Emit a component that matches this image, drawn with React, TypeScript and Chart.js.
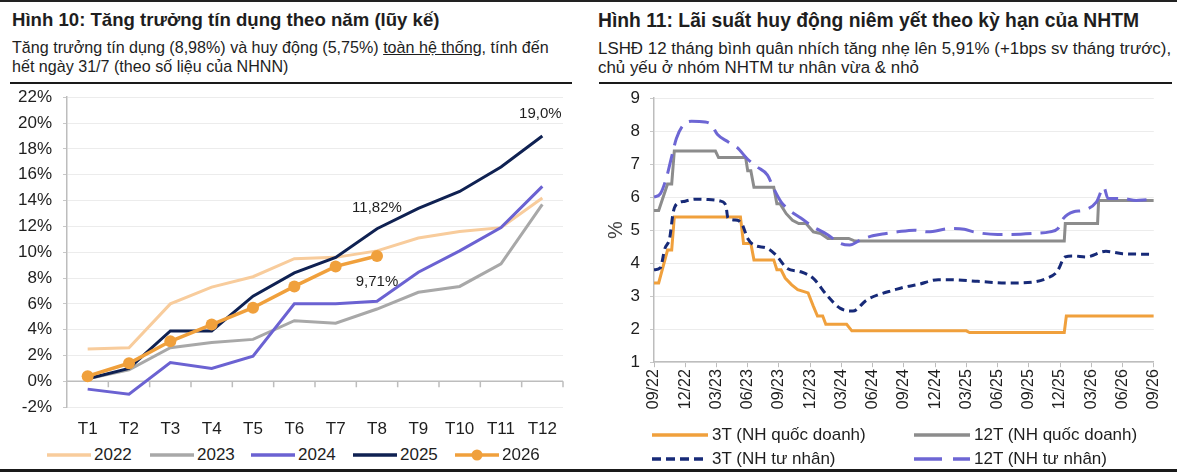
import React, { useEffect, useRef } from 'react';
import { Chart, registerables } from 'chart.js';

Chart.register(...registerables);

const FONT = '"Liberation Sans", Arial, sans-serif';
Chart.defaults.font.family = FONT;

// ---------- Left chart (Hình 10) ----------
const monthLabels = ['T1', 'T2', 'T3', 'T4', 'T5', 'T6', 'T7', 'T8', 'T9', 'T10', 'T11', 'T12'];
const credit2022 = [2.5, 2.6, 6.0, 7.3, 8.1, 9.5, 9.6, 10.1, 11.1, 11.6, 11.9, 14.2];
const credit2023 = [0.2, 0.9, 2.6, 3.0, 3.25, 4.7, 4.5, 5.6, 6.9, 7.35, 9.1, 13.7];
const credit2024 = [-0.6, -1.0, 1.45, 1.0, 1.95, 6.0, 6.0, 6.2, 8.45, 10.1, 11.9, 15.1];
const credit2025 = [0.2, 1.0, 3.9, 3.9, 6.6, 8.4, 9.6, 11.82, 13.4, 14.7, 16.6, 19.0];
const credit2026 = [0.4, 1.4, 3.1, 4.4, 5.7, 7.35, 8.9, 9.71];
const yearNames = ['2022', '2023', '2024', '2025', '2026'];
const creditLabels = [
  { year: '2025', index: 11, text: '19,0%' },
  { year: '2025', index: 7, text: '11,82%' },
  { year: '2026', index: 7, text: '9,71%' },
];

// ---------- Right chart (Hình 11) ----------
const rateTickLabels = ['09/22', '12/22', '03/23', '06/23', '09/23', '12/23', '03/24', '06/24', '09/24', '12/24', '03/25', '06/25', '09/25', '12/25', '03/26', '06/26', '09/26'];
// x = months since 09/22
const soe3T_x = [0, 0.45, 1.3, 1.7, 1.95, 8.3, 8.6, 9.3, 9.6, 11.5, 11.8, 12.2, 12.6, 13.2, 13.8, 14.8, 15.3, 15.7, 16.2, 16.5, 18.5, 19.0, 30.0, 30.3, 39.4, 39.6, 48];
const soe3T_y = [3.4, 3.4, 4.4, 4.4, 5.4, 5.4, 4.6, 4.6, 4.1, 4.1, 3.8, 3.8, 3.55, 3.35, 3.2, 3.1, 2.7, 2.4, 2.4, 2.15, 2.15, 1.95, 1.95, 1.9, 1.9, 2.4, 2.4];
const soe12T_x = [0, 0.45, 1.3, 1.7, 1.95, 5.9, 6.2, 8.8, 9.0, 9.3, 9.6, 11.5, 11.8, 12.1, 12.7, 13.3, 13.9, 14.6, 15.3, 16.0, 16.7, 18.7, 19.3, 39.4, 39.5, 42.6, 42.7, 48];
const soe12T_y = [5.6, 5.6, 6.4, 6.4, 7.4, 7.4, 7.2, 7.2, 6.8, 6.8, 6.3, 6.3, 5.8, 5.8, 5.5, 5.3, 5.2, 5.2, 4.95, 4.9, 4.75, 4.75, 4.67, 4.67, 5.2, 5.2, 5.9, 5.9];
const pvt3T_x = [0, 0.6, 1.05, 1.5, 1.85, 2.2, 3.0, 3.9, 5.2, 6.4, 6.9, 7.1, 8.0, 8.5, 9.0, 9.6, 10.9, 11.7, 12.8, 14.1, 15.3, 16.6, 17.9, 19.1, 20.4, 21.6, 23.0, 24.1, 25.3, 27.3, 28.5, 31.1, 33.9, 36.4, 37.7, 38.7, 39.5, 40.3, 41.5, 43.4, 45.0, 48];
const pvt3T_y = [3.8, 3.86, 4.45, 4.75, 5.55, 5.8, 5.88, 5.94, 5.93, 5.88, 5.75, 5.37, 5.3, 5.15, 4.75, 4.55, 4.45, 4.25, 3.84, 3.74, 3.54, 3.03, 2.63, 2.55, 2.88, 3.05, 3.18, 3.28, 3.35, 3.5, 3.5, 3.45, 3.4, 3.43, 3.54, 3.74, 4.19, 4.22, 4.19, 4.36, 4.29, 4.27];
const pvt12T_x = [0, 0.6, 1.2, 1.75, 2.15, 2.8, 3.6, 4.9, 5.5, 6.1, 7.1, 8.0, 9.0, 9.9, 10.9, 11.5, 12.2, 13.1, 14.1, 15.3, 16.6, 17.9, 18.8, 19.8, 21.0, 22.3, 23.4, 25.0, 26.3, 28.5, 29.8, 30.7, 33.0, 34.2, 36.4, 38.0, 38.8, 39.3, 40.3, 41.2, 42.5, 43.2, 43.6, 45.0, 46.3, 47.3];
const pvt12T_y = [6.0, 6.1, 6.6, 7.3, 7.78, 8.18, 8.3, 8.28, 8.2, 7.9, 7.68, 7.5, 7.15, 6.92, 6.67, 6.26, 5.86, 5.58, 5.37, 5.1, 4.88, 4.6, 4.55, 4.7, 4.83, 4.9, 4.95, 5.0, 4.95, 5.05, 5.03, 4.95, 4.87, 4.87, 4.9, 4.95, 5.05, 5.35, 5.56, 5.6, 5.86, 6.3, 5.96, 5.96, 5.9, 5.92];
const rateSeriesNames = ['3T (NH quốc doanh)', '12T (NH quốc doanh)', '3T (NH tư nhân)', '12T (NH tư nhân)'];

const C2022 = '#f8cc9c';
const C2023 = '#a8a8a8';
const C2024 = '#6b62d2';
const C2025 = '#0f2152';
const C2026 = '#f0a03c';
const C_SOE3 = '#f0a03c';
const C_SOE12 = '#8c8c8c';
const C_PVT3 = '#172a78';
const C_PVT12 = '#6d66d4';
const TEXT = '#1e1e1e';

const pts = (xs: number[], ys: number[]) => xs.map((x, i) => ({ x, y: ys[i] }));

const zeroAxisPlugin = {
  id: 'zeroAxis',
  beforeDatasetsDraw(chart: any) {
    const { ctx, scales } = chart;
    const x = scales.x;
    const y0 = scales.y.getPixelForValue(0);
    ctx.save();
    ctx.strokeStyle = '#bdbdbd';
    ctx.lineWidth = 1.5;
    ctx.beginPath();
    ctx.moveTo(chart.chartArea.left, y0);
    ctx.lineTo(chart.chartArea.right, y0);
    for (let i = 1; i <= monthLabels.length; i++) {
      const px = x.getPixelForValue(i - 0.5);
      ctx.moveTo(px, y0);
      ctx.lineTo(px, y0 + 6);
    }
    ctx.stroke();
    ctx.restore();
  },
};

const valueLabelPlugin = {
  id: 'valueLabels',
  afterDatasetsDraw(chart: any) {
    const { ctx } = chart;
    const offsets: Record<string, [number, number]> = { '19,0%': [-2, -22], '11,82%': [0, -21], '9,71%': [0, 26] };
    ctx.save();
    ctx.font = `15px ${FONT}`;
    ctx.fillStyle = TEXT;
    ctx.textAlign = 'center';
    ctx.textBaseline = 'middle';
    creditLabels.forEach((l) => {
      const di = yearNames.indexOf(l.year);
      const meta = chart.getDatasetMeta(di);
      const el = meta.data[l.index];
      if (!el) return;
      const [dx, dy] = offsets[l.text];
      ctx.fillText(l.text, el.x + dx, el.y + dy);
    });
    ctx.restore();
  },
};

function CreditChart() {
  const ref = useRef<HTMLCanvasElement>(null);
  useEffect(() => {
    const series = [credit2022, credit2023, credit2024, credit2025, credit2026];
    const colors = [C2022, C2023, C2024, C2025, C2026];
    const orders = [4, 3, 2, 1, 0];
    const chart = new Chart(ref.current!, {
      type: 'line',
      data: {
        labels: monthLabels,
        datasets: series.map((d, i) => ({
          label: yearNames[i],
          data: d,
          borderColor: colors[i],
          backgroundColor: colors[i],
          borderWidth: i === 4 ? 3.5 : 3,
          pointRadius: i === 4 ? 6 : 0,
          pointHoverRadius: i === 4 ? 6 : 0,
          pointBorderWidth: 0,
          tension: 0,
          order: orders[i],
        })),
      },
      options: {
        animation: false,
        responsive: true,
        maintainAspectRatio: false,
        layout: { padding: { left: 0, right: 15, top: 0, bottom: 0 } },
        plugins: { legend: { display: false }, tooltip: { enabled: false } },
        scales: {
          x: {
            type: 'category',
            offset: true,
            grid: { display: false },
            border: { display: false },
            ticks: { font: { size: 17 }, color: TEXT, padding: 4, autoSkip: false, maxRotation: 0 },
            afterFit: (s: any) => { s.height = 38; },
          },
          y: {
            min: -2,
            max: 22,
            ticks: { stepSize: 2, callback: (v: any) => `${v}%`, font: { size: 17 }, color: TEXT, padding: 11 },
            grid: { color: '#ececec', lineWidth: 1, tickLength: 4, tickColor: '#c8c8c8', drawTicks: true },
            border: { color: '#bdbdbd', width: 1.5 },
            afterFit: (s: any) => { s.width = 67; },
          },
        },
      },
      plugins: [zeroAxisPlugin, valueLabelPlugin],
    });
    return () => chart.destroy();
  }, []);
  return <canvas ref={ref} />;
}

function RateChart() {
  const ref = useRef<HTMLCanvasElement>(null);
  useEffect(() => {
    const chart = new Chart(ref.current!, {
      type: 'line',
      data: {
        datasets: [
          { label: rateSeriesNames[0], data: pts(soe3T_x, soe3T_y), borderColor: C_SOE3, borderWidth: 3, pointRadius: 0, tension: 0, order: 3 },
          { label: rateSeriesNames[1], data: pts(soe12T_x, soe12T_y), borderColor: C_SOE12, borderWidth: 3, pointRadius: 0, tension: 0, order: 2 },
          { label: rateSeriesNames[2], data: pts(pvt3T_x, pvt3T_y), borderColor: C_PVT3, borderWidth: 3, borderDash: [8, 5], pointRadius: 0, cubicInterpolationMode: 'monotone', order: 1 },
          { label: rateSeriesNames[3], data: pts(pvt12T_x, pvt12T_y), borderColor: C_PVT12, borderWidth: 3, borderDash: [20, 9], pointRadius: 0, cubicInterpolationMode: 'monotone', order: 0 },
        ],
      },
      options: {
        animation: false,
        responsive: true,
        maintainAspectRatio: false,
        layout: { padding: { left: 0, right: 17, top: 0, bottom: 0 } },
        plugins: { legend: { display: false }, tooltip: { enabled: false } },
        scales: {
          x: {
            type: 'linear',
            min: 0,
            max: 48,
            ticks: {
              stepSize: 3,
              autoSkip: false,
              maxRotation: 90,
              minRotation: 90,
              font: { size: 16 },
              color: TEXT,
              padding: 2,
              callback: (v: any) => rateTickLabels[Math.round(Number(v) / 3)] ?? '',
            },
            grid: { drawOnChartArea: false, drawTicks: true, tickLength: 5, color: '#bdbdbd', tickColor: '#bdbdbd' },
            border: { color: '#bdbdbd', width: 1.5 },
            afterFit: (s: any) => { s.height = 63; },
          },
          y: {
            min: 1,
            max: 9,
            ticks: { stepSize: 1, font: { size: 17 }, color: TEXT, padding: 10 },
            grid: { color: '#ececec', lineWidth: 1, tickLength: 4, tickColor: '#c8c8c8', drawTicks: true },
            border: { color: '#bdbdbd', width: 1.5 },
            title: { display: true, text: '%', font: { size: 20 }, color: '#444', padding: { top: 19, bottom: 0 } },
            afterFit: (s: any) => { s.width = 69; },
          },
        },
      },
    });
    return () => chart.destroy();
  }, []);
  return <canvas ref={ref} />;
}

function LegendLine({ color, dash, width = 44, marker = false }: { color: string; dash?: string; width?: number; marker?: boolean }) {
  return (
    <svg width={width} height={12} style={{ display: 'block' }}>
      <line x1={0} y1={6} x2={width} y2={6} stroke={color} strokeWidth={3.5} strokeDasharray={dash} />
      {marker && <circle cx={width / 2} cy={6} r={5.5} fill={color} />}
    </svg>
  );
}

const abs = (left: number, top: number, extra: React.CSSProperties = {}): React.CSSProperties => ({ position: 'absolute', left, top, ...extra });

export default function App() {
  const leftColors = [C2022, C2023, C2024, C2025, C2026];
  const leftLegendX = [47, 150, 251, 353, 455];
  const rightLegend = [
    { name: rateSeriesNames[0], color: C_SOE3, dash: undefined as string | undefined, x: 652, y: 435 },
    { name: rateSeriesNames[1], color: C_SOE12, dash: undefined, x: 914, y: 435 },
    { name: rateSeriesNames[2], color: C_PVT3, dash: '9 5', x: 652, y: 459 },
    { name: rateSeriesNames[3], color: C_PVT12, dash: '28 11', x: 914, y: 459 },
  ];
  return (
    <div style={{ position: 'relative', width: 1180, height: 473, background: '#fff', fontFamily: FONT, color: TEXT, overflow: 'hidden' }}>
      <style>{`body{margin:0;background:#fff}`}</style>
      <div style={abs(0, 0, { width: 1177, height: 2, background: '#222' })} />
      <div style={abs(12, 8, { fontSize: 18.6, fontWeight: 700, lineHeight: '24px', whiteSpace: 'nowrap' })}>Hình 10: Tăng trưởng tín dụng theo năm (lũy kế)</div>
      <div style={abs(12, 38, { fontSize: 16.1, lineHeight: '19px', whiteSpace: 'nowrap' })}>
        Tăng trưởng tín dụng (8,98%) và huy động (5,75%) <span style={{ textDecoration: 'underline' }}>toàn hệ thống</span>, tính đến
        <br />
        hết ngày 31/7 (theo số liệu của NHNN)
      </div>
      <div style={abs(10, 82, { width: 562, height: 2, background: '#1a1a1a' })} />

      <div style={abs(598, 9, { fontSize: 19.3, fontWeight: 700, lineHeight: '24px', whiteSpace: 'nowrap' })}>Hình 11: Lãi suất huy động niêm yết theo kỳ hạn của NHTM</div>
      <div style={abs(598, 39, { fontSize: 16.9, lineHeight: '19px', whiteSpace: 'nowrap' })}>
        LSHĐ 12 tháng bình quân nhích tăng nhẹ lên 5,91% (+1bps sv tháng trước),
        <br />
        chủ yếu ở nhóm NHTM tư nhân vừa &amp; nhỏ
      </div>
      <div style={abs(599, 82, { width: 573, height: 2, background: '#1a1a1a' })} />

      <div style={abs(0, 75.8, { width: 578, height: 369.2 })}>
        <CreditChart />
      </div>
      <div style={abs(585, 77.8, { width: 590, height: 347.2 })}>
        <RateChart />
      </div>

      {yearNames.map((n, i) => (
        <div key={n} style={abs(leftLegendX[i], 445, { display: 'flex', alignItems: 'center', height: 20, fontSize: 17, whiteSpace: 'nowrap' })}>
          <LegendLine color={leftColors[i]} width={44} marker={i === 4} />
          <span style={{ marginLeft: 3 }}>{n}</span>
        </div>
      ))}

      {rightLegend.map((l) => (
        <div key={l.name} style={abs(l.x, l.y - 10, { display: 'flex', alignItems: 'center', height: 20, fontSize: 17, whiteSpace: 'nowrap' })}>
          <LegendLine color={l.color} dash={l.dash} width={56} />
          <span style={{ marginLeft: 4 }}>{l.name}</span>
        </div>
      ))}

      <div style={abs(0, 469, { width: 1177, height: 3, background: '#1a1a1a' })} />
    </div>
  );
}
